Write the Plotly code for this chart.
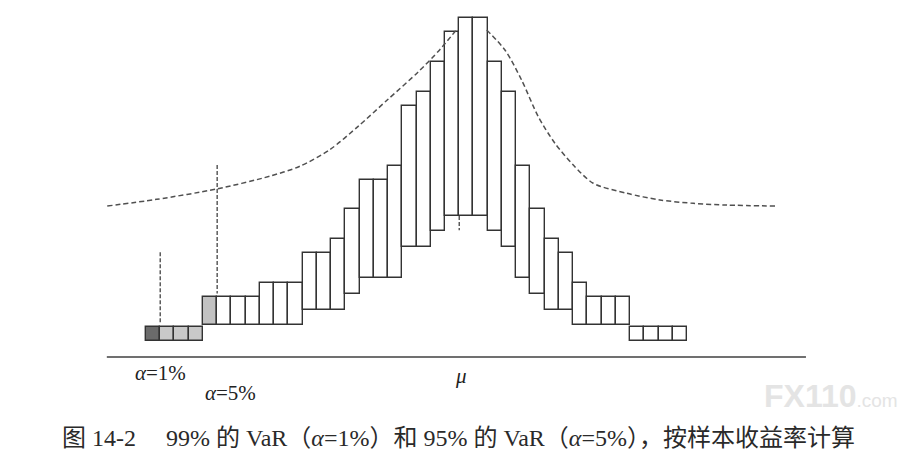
import plotly.graph_objects as go

# ---- data (column index, floating bar bottom/top in box units) ----
cols = list(range(38))
bottoms = [1.10, 1.10, 1.10, 1.10, 2.25, 2.25, 2.25, 2.25, 2.25, 2.25,
           2.25, 3.30, 3.30, 3.30, 4.40, 5.53, 5.53, 5.53, 7.72, 7.72,
           8.85, 9.90, 9.90, 9.90, 8.85, 7.72, 5.53, 4.40, 3.30, 3.30,
           2.25, 2.25, 2.25, 2.25, 1.10, 1.10, 1.10, 1.10]
tops = [2.11, 2.11, 2.11, 2.11, 4.19, 4.19, 4.19, 4.19, 5.18, 5.18,
        5.18, 7.28, 7.28, 8.29, 10.37, 12.43, 12.43, 13.43, 17.63, 18.61,
        20.70, 22.80, 23.79, 23.79, 20.70, 18.61, 13.43, 10.37, 8.29, 7.28,
        5.18, 4.19, 4.19, 4.19, 2.11, 2.11, 2.11, 2.11]
fills = ["#6b6b6b", "#c9c9c9", "#c9c9c9", "#c9c9c9", "#c2c2c2"] + ["#ffffff"] * 33

# dashed reference distribution curve (hidden behind the bars in the middle)
curve_x = [-3.22, 0.25, 4.47, 8.21, 10.32, 12.40, 14.40, 16.50, 18.60, 20.15, 21.32,
           None,
           23.43, 24.71, 25.88, 27.05, 28.22, 29.51, 30.91, 33.26, 35.59,
           37.94, 40.28, 43.79]
curve_y = [10.60, 11.07, 11.80, 12.70, 13.40, 14.55, 16.20, 18.10, 20.00, 21.60, 23.00,
           None,
           22.96, 21.56, 19.45, 16.88, 15.01, 13.48, 12.20, 11.50, 11.03,
           10.79, 10.67, 10.60]

# VaR cut lines and mean marker
var1_x, var1_y = [0.5, 0.5], [7.35, 2.35]
var5_x, var5_y = [4.5, 4.5], [13.48, 4.45]
mu_x, mu_y = [21.5, 21.5], [9.90, 8.90]
axis_x, axis_y = [-3.25, 45.85], [0, 0]

labels = ["<i>α</i>=1%", "<i>α</i>=5%", "<i>μ</i>"]
caption = ("图 14-2\u3000 99% 的 VaR（<i>α</i>=1%）和 95% 的 VaR（<i>α</i>=5%），"
           "按样本收益率计算")

LINE = "#333333"
DASH = "#505050"
SERIF = "Liberation Serif, Noto Sans CJK SC, serif"

fig = go.Figure()
fig.add_trace(go.Bar(
    x=cols, y=[t - b for t, b in zip(tops, bottoms)], base=bottoms, width=1.0,
    marker=dict(color=fills, line=dict(color=LINE, width=1.4)),
    hoverinfo="skip", showlegend=False))
fig.add_trace(go.Scatter(x=curve_x, y=curve_y, mode="lines", connectgaps=False,
                         line=dict(color=DASH, width=1.5, dash="5px,3px",
                                   shape="spline", smoothing=0.8),
                         showlegend=False, hoverinfo="skip"))
for xs, ys in [(var1_x, var1_y), (var5_x, var5_y), (mu_x, mu_y)]:
    fig.add_trace(go.Scatter(x=xs, y=ys, mode="lines",
                             line=dict(color=DASH, width=1.4, dash="4px,2px"),
                             showlegend=False, hoverinfo="skip"))
fig.add_trace(go.Scatter(x=axis_x, y=axis_y, mode="lines",
                         line=dict(color="#404040", width=1.7),
                         showlegend=False, hoverinfo="skip"))

fig.add_annotation(x=0.55, y=-1.15, text=labels[0], showarrow=False,
                   font=dict(family=SERIF, size=21, color="#222222"))
fig.add_annotation(x=5.45, y=-2.55, text=labels[1], showarrow=False,
                   font=dict(family=SERIF, size=21, color="#222222"))
fig.add_annotation(x=21.6, y=-1.35, text=labels[2], showarrow=False,
                   font=dict(family=SERIF, size=21, color="#222222"))
fig.add_annotation(x=0.491, y=0.089, xref="paper", yref="paper", text=caption,
                   showarrow=False, xanchor="center", yanchor="middle",
                   font=dict(family=SERIF, size=24, color="#2a2a2a"))
fig.add_annotation(x=0.973, y=0.178, xref="paper", yref="paper",
                   xanchor="right", yanchor="middle",
                   text="<b>FX110</b><span style='font-size:19px'>.com</span>",
                   showarrow=False,
                   font=dict(family="Arial, Liberation Sans", size=32, color="#e4e4e4"))

fig.update_layout(
    width=917, height=472,
    margin=dict(l=0, r=0, t=0, b=0),
    paper_bgcolor="white", plot_bgcolor="white",
    xaxis=dict(range=[-10.19, 54.21], visible=False, fixedrange=True),
    yaxis=dict(range=[-8.64, 24.51], visible=False, fixedrange=True),
    bargap=0,
)
fig.write_html("out.html")
